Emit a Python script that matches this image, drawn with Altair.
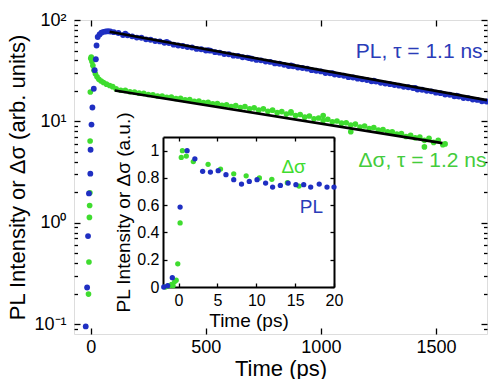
import altair as alt
import pandas as pd

# ---------------- data ----------------
# main panel: PL (blue)
pl_t_early = [-22, -16, -12, -8, -2, -1, 3, 7, 13, 17, 22, 25, 30, 38, 46, 55, 65, 75, 85]
pl_v_early = [0.095, 0.23, 0.74, 1.95, 3.05, 5.25, 9.3, 13.7, 21, 32, 41, 56, 68, 72, 75, 76.5, 77, 77.5, 77]
pl_t_decay = list(range(100, 1721, 20))
pl_v_decay = [75.8, 74.5, 71.0, 70.6, 69.0, 67.1, 66.8, 64.5, 63.9, 62.0,
              61.5, 59.6, 59.2, 57.1, 56.0, 55.4, 54.1, 53.6, 51.9, 51.5,
              50.0, 49.8, 48.2, 47.6, 46.1, 45.9, 44.5, 44.2, 42.9, 42.6,
              41.5, 40.4, 40.0, 38.9, 38.6, 37.3, 37.0, 36.1, 35.2, 35.0,
              34.0, 33.6, 33.1, 32.0, 31.6, 31.1, 30.0, 29.8, 29.0, 28.6,
              28.2, 27.3, 27.1, 26.4, 26.0, 25.6, 24.9, 24.7, 24.0, 23.6,
              23.3, 22.8, 22.5, 21.9, 21.7, 21.3, 20.6, 20.5, 20.0, 19.8,
              19.2, 19.0, 18.4, 18.3, 17.7, 17.6, 17.0, 16.9, 16.4, 16.3,
              15.8, 15.7]
pl_t_extra = [150, 330, 510, 690, 870, 1050, 1230, 1410, 1590]
pl_v_extra = [73.5, 60.9, 50.3, 42.0, 35.6, 29.9, 25.2, 21.4, 17.9]

# main panel: delta sigma (green)
ds_t_early = [-10, -8, -6, -5, -4, -3, -2, 0, 2, 5, 9, 14, 20, 27, 35, 45, 55, 68, 82, 95]
ds_v_early = [0.198, 0.41, 1.13, 1.48, 1.98, 6.4, 19.5, 41.7, 43, 39, 35.5, 32, 29.5, 27.5, 26, 25, 24.2, 23.3, 22.6, 22.0]
ds_t_decay = list(range(110, 1531, 20))
ds_v_decay = [21.0, 20.3, 20.2, 19.6, 19.5, 19.0, 18.9, 18.4, 18.3, 17.8,
              17.8, 17.3, 17.4, 16.8, 16.9, 16.3, 16.4, 15.8, 15.9, 15.3,
              15.4, 14.9, 15.0, 14.4, 14.6, 14.0, 14.3, 13.7, 14.0, 13.3,
              13.6, 12.9, 13.3, 12.6, 12.9, 12.2, 12.5, 11.8, 12.1, 11.4,
              11.7, 11.0, 11.3, 10.6, 10.8, 10.2, 10.5, 9.9, 10.1, 9.6,
              9.7, 9.2, 9.4, 8.8, 9.0, 8.5, 8.7, 8.2, 8.3, 7.9,
              7.9, 7.5, 7.6, 7.1, 7.3, 6.9, 7.0, 6.5, 6.8, 6.2,
              6.5, 5.9]
ds_t_extra = [870, 1010, 1130, 1450, 1540]
ds_v_extra = [12.4, 11.4, 7.9, 5.6, 6.0]

# exponential fits (straight lines on the log axis)
fit_series = ["PL", "PL", "ds", "ds"]
fit_t = [82, 1722, 104, 1528]
fit_v = [76.6, 16.2, 20.2, 6.1]

# annotations (main panel)
ann_text = ["PL, \u03c4 = 1.1 ns", "\u0394\u03c3, \u03c4 = 1.2 ns"]
ann_t = [1703, 1720]
ann_v = [42.2, 3.55]
ann_c = ["#2a3cb8", "#44cc3c"]

# inset data
in_pl_t = [-1.9, -1.4, -0.8, 0.2, 1.1, 2.1, 3.1, 4.1, 5.1, 6.1, 7.1, 8.1, 9.1, 10.1, 11.2,
           12.1, 13.1, 14.1, 15.1, 16.1, 17.0, 18.1, 19.1, 20.0]
in_pl_v = [0.0, 0.01, 0.068, 0.586, 1.0, 0.94, 0.848, 0.843, 0.853, 0.824, 0.787, 0.755, 0.774, 0.787,
           0.762, 0.733, 0.745, 0.762, 0.75, 0.75, 0.733, 0.755, 0.733, 0.733]
in_ds_t = [-1.7, -1.2, -0.9, -0.7, -0.5, -0.3, -0.1, 0.2, 0.35, 0.5, 1.0, 1.9, 3.8, 5.4, 7.1, 8.7,
           10.4, 12.0, 14.0, 15.5]
in_ds_v = [0.0, 0.01, 0.02, 0.01, 0.04, 0.05, 0.17, 0.47, 0.95, 1.0, 0.96, 0.92, 0.90, 0.865, 0.83,
           0.815, 0.80, 0.79, 0.765, 0.74]
in_ann_text = ["\u0394\u03c3", "PL"]
in_ann_t = [14.8, 17.1]
in_ann_v = [0.838, 0.544]

# ticks / labels
x_ticks = [0, 500, 1000, 1500]
y_major = [0.1, 1, 10, 100]
y_all = [0.09, 0.1, 0.2, 0.3, 0.4, 0.5, 0.6, 0.7, 0.8, 0.9,
         1, 2, 3, 4, 5, 6, 7, 8, 9, 10, 20, 30, 40, 50, 60, 70, 80, 90, 100]
in_x_ticks = [0, 5, 10, 15, 20]
in_y_ticks = [0, 0.2, 0.4, 0.6, 0.8, 1.0]

# ---------------- layout ----------------
BLUE = "#1f2fc2"
GREEN = "#3fdc2f"
FONT = "Liberation Sans"
W, H = 413, 314
IN_L, IN_R, IN_T, IN_B = 89, 260, 117, 267

df_pl = pd.DataFrame({"t": pl_t_early + pl_t_decay + pl_t_extra, "v": pl_v_early + pl_v_decay + pl_v_extra})
df_ds = pd.DataFrame({"t": ds_t_early + ds_t_decay + ds_t_extra, "v": ds_v_early + ds_v_decay + ds_v_extra})
df_fit = pd.DataFrame({"s": fit_series, "t": fit_t, "v": fit_v})
df_ann = pd.DataFrame({"label": ann_text, "t": ann_t, "v": ann_v, "c": ann_c})
df_in_pl = pd.DataFrame({"t": in_pl_t, "v": in_pl_v})
df_in_ds = pd.DataFrame({"t": in_ds_t, "v": in_ds_v})
df_in_ann = pd.DataFrame({"label": in_ann_text, "t": in_ann_t, "v": in_ann_v, "c": [GREEN, "#2a3cb8"]})

xs = alt.Scale(domain=[-73, 1722], nice=False, zero=False)
ys = alt.Scale(type="log", domain=[0.08, 100], nice=False)

major_test = "datum.value == 0.1 || datum.value == 1 || datum.value == 10 || datum.value == 100"
ysize = {"condition": {"test": major_test, "value": 6}, "value": 3.5}

common = dict(grid=False, tickColor="black", tickWidth=1.3, labelColor="black", titleColor="black",
              labelFont=FONT, titleFont=FONT, labelFlush=False, labelOverlap=False)

ax_x_lab = alt.Axis(values=x_ticks, orient="bottom", ticks=False, domain=False, labelFontSize=18,
                    labelPadding=4, format="d", title="Time (ps)", titleFontSize=22, titlePadding=2,
                    titleFontWeight="normal", **common)
ax_x_bt = alt.Axis(values=x_ticks, orient="top", offset=-H, labels=False, domain=False, tickSize=6,
                   title=None, **common)
ax_x_tt = alt.Axis(values=x_ticks, orient="bottom", offset=-H, labels=False, domain=False, tickSize=6,
                   title=None, **common)
ax_y_lab = alt.Axis(values=y_major, orient="left", ticks=False, domain=False, labelFontSize=18,
                    labelPadding=8,
                    labelExpr="datum.value == 100 ? '10\u00b2' : datum.value == 10 ? '10\u00b9' : datum.value == 1 ? '10\u2070' : '10\u207b\u00b9'",
                    title="PL Intensity or \u0394\u03c3 (arb. units)", titleFontSize=22, titlePadding=4,
                    titleFontWeight="normal", **common)
ax_y_lt = alt.Axis(values=y_all, orient="right", offset=-W, labels=False, domain=False, tickSize=ysize,
                   title=None, **common)
ax_y_rt = alt.Axis(values=y_all, orient="left", offset=-W, labels=False, domain=False, tickSize=ysize,
                   title=None, **common)

green_pts = alt.Chart(df_ds).mark_circle(size=32, color=GREEN, opacity=1).encode(
    x=alt.X("t:Q", scale=xs, axis=ax_x_bt), y=alt.Y("v:Q", scale=ys, axis=ax_y_lt))
blue_pts = alt.Chart(df_pl).mark_circle(size=34, color=BLUE, opacity=1).encode(
    x=alt.X("t:Q", scale=xs, axis=ax_x_lab), y=alt.Y("v:Q", scale=ys, axis=ax_y_lab))
fits = alt.Chart(df_fit).mark_line(color="black", strokeWidth=2.6, clip=True).encode(
    x=alt.X("t:Q", scale=xs, axis=ax_x_tt), y=alt.Y("v:Q", scale=ys, axis=ax_y_rt), detail="s:N")
ann = alt.Chart(df_ann).mark_text(align="right", baseline="alphabetic", fontSize=21, font=FONT).encode(
    x=alt.X("t:Q", scale=xs, axis=None), y=alt.Y("v:Q", scale=ys, axis=None),
    text="label:N", color=alt.Color("c:N", scale=None))

main = alt.layer(green_pts, blue_pts, fits, ann).resolve_axis(x="independent", y="independent")

# inset
xs_in = alt.Scale(domain=[-2, 20], range=[IN_L, IN_R], nice=False, zero=False)
ys_in = alt.Scale(domain=[0, 1.1], range=[IN_B, IN_T], nice=False, zero=False)

ax_in_x_lab = alt.Axis(values=in_x_ticks, orient="bottom", offset=-(H - IN_B), ticks=False, domain=True,
                       domainColor="black", domainWidth=2, labelFontSize=16, labelPadding=5,
                       title="Time (ps)", titleFontSize=19, titlePadding=3, titleFontWeight="normal", **common)
ax_in_x_bt = alt.Axis(values=in_x_ticks, orient="top", offset=-IN_B, labels=False, domain=False, tickSize=4,
                      title=None, **common)
ax_in_x_tt = alt.Axis(values=in_x_ticks, orient="bottom", offset=-(H - IN_T), labels=False, domain=True,
                      domainColor="black", domainWidth=2, tickSize=4, title=None, **common)
ax_in_y_lab = alt.Axis(values=in_y_ticks, orient="left", offset=-IN_L, ticks=False, domain=True,
                       domainColor="black", domainWidth=2, labelFontSize=16, labelPadding=4, format="~g",
                       title="PL Intensity or \u0394\u03c3 (a.u.)", titleFontSize=19, titlePadding=3,
                       titleFontWeight="normal", **common)
ax_in_y_lt = alt.Axis(values=in_y_ticks, orient="right", offset=-(W - IN_L), labels=False, domain=False,
                      tickSize=4, title=None, **common)
ax_in_y_rt = alt.Axis(values=in_y_ticks, orient="left", offset=-IN_R, labels=False, domain=True,
                      domainColor="black", domainWidth=2, tickSize=4, title=None, **common)

in_green = alt.Chart(df_in_ds).mark_circle(size=28, color=GREEN, opacity=1).encode(
    x=alt.X("t:Q", scale=xs_in, axis=ax_in_x_lab), y=alt.Y("v:Q", scale=ys_in, axis=ax_in_y_lab))
in_blue = alt.Chart(df_in_pl).mark_circle(size=28, color=BLUE, opacity=1).encode(
    x=alt.X("t:Q", scale=xs_in, axis=ax_in_x_bt), y=alt.Y("v:Q", scale=ys_in, axis=ax_in_y_lt))
in_ann = alt.Chart(df_in_ann).mark_text(align="center", baseline="alphabetic", fontSize=19, font=FONT).encode(
    x=alt.X("t:Q", scale=xs_in, axis=ax_in_x_tt), y=alt.Y("v:Q", scale=ys_in, axis=ax_in_y_rt),
    text="label:N", color=alt.Color("c:N", scale=None))

inset = alt.layer(in_green, in_blue, in_ann).resolve_axis(x="independent", y="independent")

chart = (
    alt.layer(main, inset)
    .resolve_scale(x="independent", y="independent")
    .properties(width=W, height=H, autosize=alt.AutoSizeParams(type="none"),
                padding={"left": 74, "top": 20, "right": 1, "bottom": 45})
    .configure_view(stroke="black", strokeWidth=2)
    .configure(background="white")
)

chart.save("out.html", embed_options={"renderer": "svg", "actions": False})
